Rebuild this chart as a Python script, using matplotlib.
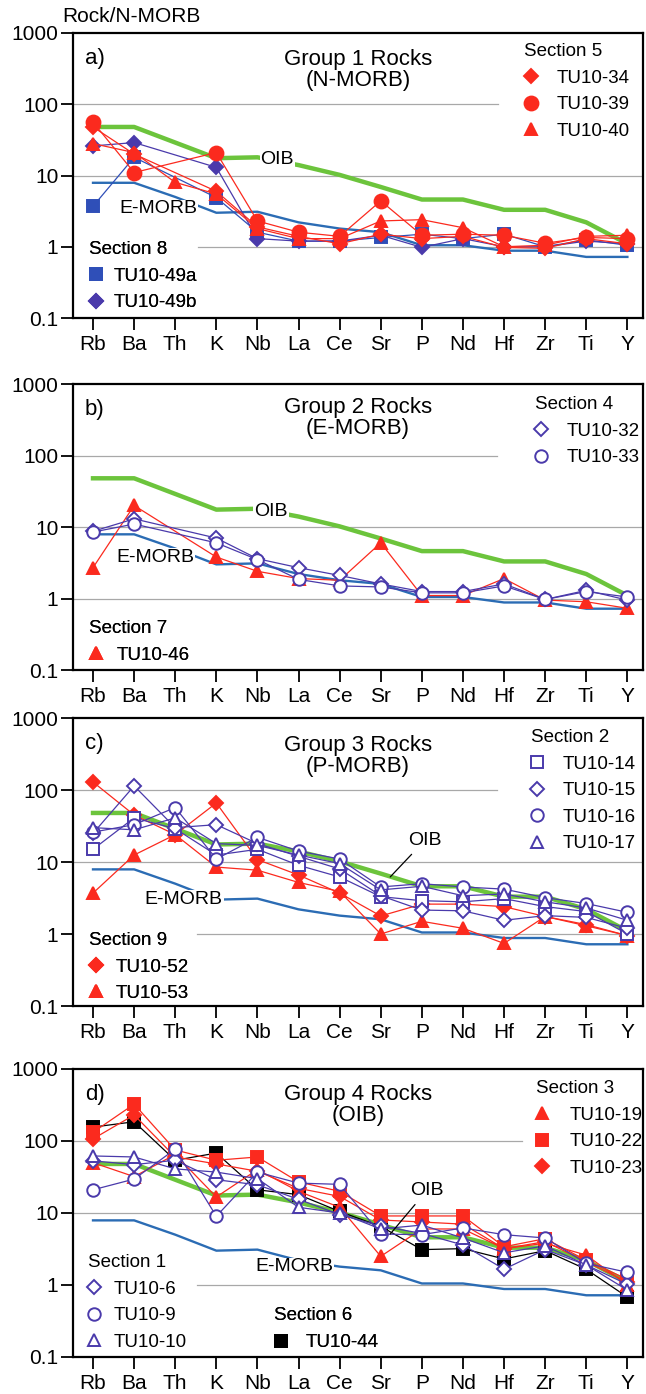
import numpy as np
import matplotlib
matplotlib.use('Agg')
import matplotlib.pyplot as plt
from matplotlib.lines import Line2D
from matplotlib.ticker import NullLocator

plt.rcParams['font.family'] = ['Liberation Sans', 'DejaVu Sans']

nan = np.nan

# ---------------- data (rock / N-MORB) ----------------
elements = ['Rb', 'Ba', 'Th', 'K', 'Nb', 'La', 'Ce', 'Sr', 'P', 'Nd', 'Hf', 'Zr', 'Ti', 'Y']

oib = [48, 48, 29, 17.5, 18, 14, 10.2, 6.9, 4.6, 4.6, 3.3, 3.3, 2.2, 1.1]
emorb = [7.9, 7.9, 5.0, 3.0, 3.1, 2.2, 1.8, 1.6, 1.05, 1.05, 0.88, 0.88, 0.72, 0.72]

# group 1
tu10_34 = [48, 20, nan, 6.0, 1.9, 1.4, 1.1, 1.5, 1.3, 1.4, 0.98, 0.95, 1.3, 1.1]
tu10_39 = [56, 11, nan, 21, 2.3, 1.6, 1.4, 4.4, 1.45, 1.5, 1.45, 1.12, 1.35, 1.3]
tu10_40 = [28, 21, 8.0, 5.5, 1.8, 1.3, 1.3, 2.3, 2.4, 1.85, 1.0, 1.05, 1.4, 1.45]
tu10_49a = [3.7, 18, nan, 4.9, 1.6, 1.2, 1.2, 1.35, 1.5, 1.3, 1.5, 1.0, 1.25, 1.05]
tu10_49b = [26, 29, nan, 13, 1.3, 1.2, 1.2, 1.45, 0.98, 1.3, 1.0, 1.0, 1.2, 1.1]

# group 2
tu10_32 = [8.7, 13, nan, 7.0, 3.6, 2.7, 2.1, 1.6, 1.25, 1.25, 1.6, 0.97, 1.3, 0.95]
tu10_33 = [8.5, 11, nan, 6.0, 3.5, 1.85, 1.5, 1.45, 1.2, 1.2, 1.5, 0.97, 1.25, 1.05]
tu10_46 = [2.7, 20, nan, 3.8, 2.4, 1.9, 1.8, 6.0, 1.1, 1.1, 1.9, 0.95, 0.9, 0.73]

# group 3
tu10_14 = [15, 41, 29, 12.5, 15, 9.0, 6.2, 3.3, 2.9, 2.8, 3.1, 2.4, 2.05, 1.0]
tu10_15 = [25, 114, 30, 33, 18, 12, 8.0, 3.4, 2.15, 2.1, 1.55, 1.8, 1.7, 1.2]
tu10_16 = [26, 33, 57, 11, 22, 14.2, 11, 4.5, 5.0, 4.5, 4.2, 3.2, 2.65, 2.0]
tu10_17 = [30, 28, 41, 18, 17, 12.5, 9.5, 4.1, 4.6, 3.4, 3.6, 2.8, 2.3, 1.55]
tu10_52 = [129, 45, 24, 66, 10.8, 6.6, 3.7, 1.78, 2.6, 2.6, 2.4, 1.75, 1.35, 0.95]
tu10_53 = [3.7, 12.5, 24, 8.5, 7.7, 5.2, 3.9, 1.0, 1.5, 1.2, 0.74, 1.75, 1.3, 0.95]

# group 4
tu10_6 = [53, 47, 54, 29, 24.6, 15.5, 9.5, 6.6, 5.2, 3.6, 1.66, 3.1, 1.9, 1.02]
tu10_9 = [21, 29.6, 77, 9.0, 37, 26, 25, 5.1, 5.0, 6.2, 5.0, 4.5, 2.0, 1.5]
tu10_10 = [62, 60, 41, 37, 30, 12, 10, 6.0, 6.8, 4.5, 2.8, 3.5, 1.9, 0.85]
tu10_19 = [50, 32, 65, 16.7, 40, 20, 12, 2.5, 6.0, 6.0, 3.2, 3.8, 2.6, 1.0]
tu10_22 = [132, 325, 75, 54, 60, 27, 20, 9.1, 9.1, 9.1, 3.4, 4.4, 2.2, 1.2]
tu10_23 = [107, 230, 60, 48, 38, 22, 17, 8.0, 7.5, 7.0, 3.2, 4.0, 2.1, 1.1]
tu10_44 = [156, 185, 54, 68, 21, 18, 10.5, 6.5, 3.1, 3.2, 2.3, 3.0, 1.65, 0.68]

x = np.arange(len(elements))

RED = '#fb2a1e'
BLUE = '#2f4fb8'
PURP = '#4a3aab'
GREEN = '#6cc43c'
EBLUE = '#2b6cb4'
DMS = 7.3  # diamond marker size

fig = plt.figure(figsize=(6.46, 13.94), dpi=100)


def px_axes(top, bottom):
    # axes rectangle from pixel rows
    return [73 / 646, 1 - bottom / 1394, 570 / 646, (bottom - top) / 1394]


def base(ax, grid):
    ax.set_yscale('log')
    ax.set_ylim(0.1, 1000)
    ax.set_xlim(-0.487, 13.38)
    ax.set_xticks(x)
    ax.set_xticklabels(elements, fontsize=15)
    ax.set_yticks([0.1, 1, 10, 100, 1000])
    ax.set_yticklabels(['0.1', '1', '10', '100', '1000'], fontsize=15)
    ax.yaxis.set_minor_locator(NullLocator())
    ax.tick_params(direction='out', length=8.5, width=1.3)
    ax.tick_params(axis='x', pad=4)
    ax.tick_params(axis='y', pad=2)
    for s in ax.spines.values():
        s.set_linewidth(1.6)
    for val, lo, hi in grid:
        ax.axhline(val, xmin=lo, xmax=hi, color='#a8a8a8', lw=0.9, zorder=0)
    ax.plot(x, oib, color=GREEN, lw=3.2, zorder=2, solid_joinstyle='round')
    ax.plot(x, emorb, color=EBLUE, lw=1.7, zorder=2)


def series(ax, vals, marker, color, filled=True, ms=9):
    v = np.array(vals, dtype=float)
    m = ~np.isnan(v)
    ax.plot(x[m], v[m], color=color, lw=0.9, marker=marker, ms=ms,
            mfc=color if filled else 'white', mec=color, mew=1.4, zorder=3)


def handle(marker, color, filled=True, ms=9):
    return Line2D([], [], ls='none', marker=marker, ms=ms, color=color,
                  mfc=color if filled else 'white', mec=color, mew=1.4)


def key(ax, handles, labels, title, anchor, hl=0.7, tp=0.9):
    leg = ax.legend(handles, labels, title=title, loc='upper left', bbox_to_anchor=anchor,
                    frameon=False, fontsize=13.5, title_fontsize=13.5, alignment='left',
                    handlelength=hl, handletextpad=tp, labelspacing=0.5,
                    borderpad=0, borderaxespad=0)
    leg._legend_box.sep = 7
    ax.add_artist(leg)


def names(ax, letter, title, ty, oib_xy, em_xy, oib_arrow=None):
    ax.text(0.021, 0.91, letter, transform=ax.transAxes, fontsize=16, va='center')
    ax.text(0.5, ty, title, transform=ax.transAxes, fontsize=16, ha='center', va='center',
            linespacing=1.0)
    lab = dict(fontsize=14, ha='center', va='center', zorder=4,
               bbox=dict(fc='white', ec='none', pad=0.5))
    if oib_arrow is None:
        ax.text(*oib_xy, 'OIB', **lab)
    else:
        ax.annotate('OIB', xy=oib_arrow, xytext=oib_xy, fontsize=14, ha='center', va='center',
                    arrowprops=dict(arrowstyle='-', color='black', lw=0.9, shrinkA=3, shrinkB=0),
                    zorder=4)
    ax.text(*em_xy, 'E-MORB', **lab)


# ---------------- a) group 1 ----------------
ax = fig.add_axes(px_axes(33, 318))
base(ax, [(100, 0, 0.746), (10, 0, 1), (1, 0.219, 1)])
series(ax, tu10_49a, 's', BLUE)
series(ax, tu10_49b, 'D', PURP, ms=DMS)
series(ax, tu10_34, 'D', RED, ms=DMS)
series(ax, tu10_39, 'o', RED, ms=10)
series(ax, tu10_40, '^', RED)
names(ax, 'a)', 'Group 1 Rocks\n(N-MORB)', 0.87, (4.48, 16.6), (1.58, 3.4))
key(ax, [handle('D', RED, ms=DMS), handle('o', RED, ms=10), handle('^', RED)],
    ['TU10-34', 'TU10-39', 'TU10-40'], 'Section 5', (0.792, 0.965), hl=0.7, tp=1.0)
key(ax, [handle('s', BLUE), handle('D', PURP, ms=DMS)],
    ['TU10-49a', 'TU10-49b'], 'Section 8', (0.028, 0.27), hl=0.7, tp=0.6)

# ---------------- b) group 2 ----------------
ax = fig.add_axes(px_axes(384, 670))
base(ax, [(100, 0, 0.744), (10, 0, 1), (1, 0, 1)])
series(ax, tu10_46, '^', RED)
series(ax, tu10_32, 'D', PURP, filled=False, ms=DMS)
series(ax, tu10_33, 'o', PURP, filled=False)
names(ax, 'b)', 'Group 2 Rocks\n(E-MORB)', 0.88, (4.33, 16.7), (1.51, 3.8))
key(ax, [handle('D', PURP, False, ms=DMS), handle('o', PURP, False)],
    ['TU10-32', 'TU10-33'], 'Section 4', (0.81, 0.958), hl=0.7, tp=1.0)
key(ax, [handle('^', RED)], ['TU10-46'], 'Section 7', (0.028, 0.175), hl=0.7, tp=0.8)

# ---------------- c) group 3 ----------------
ax = fig.add_axes(px_axes(718, 1006))
base(ax, [(100, 0, 0.744), (10, 0, 1), (1, 0.217, 1)])
series(ax, tu10_52, 'D', RED, ms=DMS)
series(ax, tu10_53, '^', RED)
series(ax, tu10_14, 's', PURP, filled=False)
series(ax, tu10_15, 'D', PURP, filled=False, ms=DMS)
series(ax, tu10_16, 'o', PURP, filled=False)
series(ax, tu10_17, '^', PURP, filled=False)
names(ax, 'c)', 'Group 3 Rocks\n(P-MORB)', 0.868, (8.08, 20.2), (2.21, 3.06), oib_arrow=(7.23, 6.2))
key(ax, [handle('s', PURP, False), handle('D', PURP, False, ms=DMS),
         handle('o', PURP, False), handle('^', PURP, False)],
    ['TU10-14', 'TU10-15', 'TU10-16', 'TU10-17'], 'Section 2', (0.803, 0.962), hl=0.7, tp=1.0)
key(ax, [handle('D', RED, ms=DMS), handle('^', RED)],
    ['TU10-52', 'TU10-53'], 'Section 9', (0.028, 0.258), hl=0.7, tp=0.7)

# ---------------- d) group 4 ----------------
ax = fig.add_axes(px_axes(1069, 1357))
base(ax, [(100, 0, 0.788), (10, 0, 1), (1, 0.217, 1)])
series(ax, tu10_44, 's', 'black')
series(ax, tu10_19, '^', RED)
series(ax, tu10_22, 's', RED)
series(ax, tu10_23, 'D', RED, ms=DMS)
series(ax, tu10_6, 'D', PURP, filled=False, ms=DMS)
series(ax, tu10_9, 'o', PURP, filled=False)
series(ax, tu10_10, '^', PURP, filled=False)
names(ax, 'd)', 'Group 4 Rocks\n(OIB)', 0.875, (8.13, 20.8), (4.89, 1.78), oib_arrow=(7.23, 5.1))
key(ax, [handle('^', RED), handle('s', RED), handle('D', RED, ms=DMS)],
    ['TU10-19', 'TU10-22', 'TU10-23'], 'Section 3', (0.812, 0.962), hl=0.7, tp=1.1)
key(ax, [handle('D', PURP, False, ms=DMS), handle('o', PURP, False), handle('^', PURP, False)],
    ['TU10-6', 'TU10-9', 'TU10-10'], 'Section 1', (0.026, 0.358), hl=0.7, tp=0.7)
key(ax, [handle('s', 'black')], ['TU10-44'], 'Section 6', (0.353, 0.172), hl=0.7, tp=1.0)

fig.text(62 / 646, 1 - 17 / 1394, 'Rock/N-MORB', fontsize=15, va='center')

fig.savefig('out.png', dpi=100)
